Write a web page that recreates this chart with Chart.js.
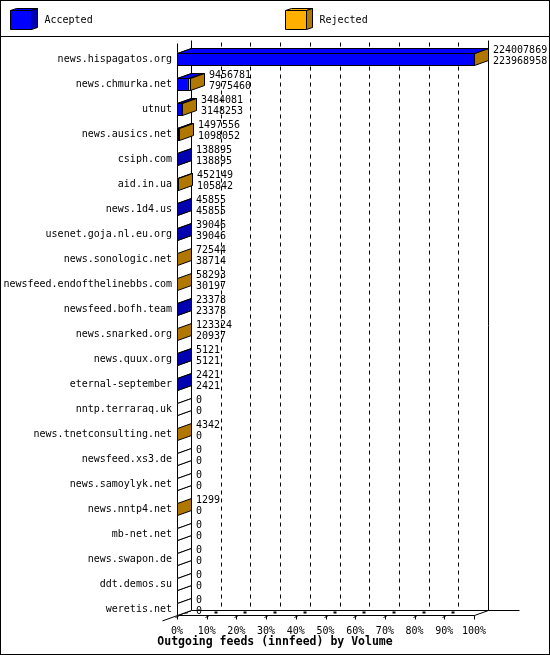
<!DOCTYPE html>
<html>
<head>
<meta charset="utf-8">
<title>Outgoing feeds (innfeed) by Volume</title>
<script src="https://cdn.jsdelivr.net/npm/chart.js@4.4.1/dist/chart.umd.min.js"></script>
<style>
  body { margin: 0; background: #fff; }
  canvas { display: block; }
</style>
</head>
<body>
<canvas id="canvas" width="550" height="655"></canvas>
<script>
// feeds, sorted by accepted volume (as in the report)
const feeds = [
    "news.hispagatos.org", "news.chmurka.net", "utnut", "news.ausics.net",
    "csiph.com", "aid.in.ua", "news.1d4.us", "usenet.goja.nl.eu.org",
    "news.sonologic.net", "newsfeed.endofthelinebbs.com", "newsfeed.bofh.team",
    "news.snarked.org", "news.quux.org", "eternal-september", "nntp.terraraq.uk",
    "news.tnetconsulting.net", "newsfeed.xs3.de", "news.samoylyk.net",
    "news.nntp4.net", "mb-net.net", "news.swapon.de", "ddt.demos.su", "weretis.net"
]
// upper number next to each bar
const rejected = [
    224007869, 9456781, 3484081, 1497556, 138895, 452149, 45855, 39046,
    72544, 58293, 23378, 123324, 5121, 2421, 0, 4342, 0, 0, 1299, 0, 0, 0, 0
]
// lower number next to each bar
const accepted = [
    223968958, 7975460, 3148253, 1098052, 138895, 105842, 45855, 39046,
    38714, 30197, 23378, 20937, 5121, 2421, 0, 0, 0, 0, 0, 0, 0, 0, 0
]
const tickLabels = ["0%", "10%", "20%", "30%", "40%", "50%", "60%", "70%", "80%", "90%", "100%"]
const chartTitle = "Outgoing feeds (innfeed) by Volume"

const FONT = '"DejaVu Sans Mono", "Liberation Mono", monospace'
const DX = 14, DY = -5          // depth of the 3d bars
const shades = {
    Accepted: { front: "#0000ff", side: "#0000b0" },
    Rejected: { front: "#ffaf00", side: "#b07800" }
}
const maxVolume = Math.max(...rejected, ...accepted)

const px = v => Math.round(v) + 0.5

function poly(ctx, pts, fill) {
    ctx.beginPath()
    ctx.moveTo(pts[0][0], pts[0][1])
    pts.slice(1).forEach(p => ctx.lineTo(p[0], p[1]))
    ctx.closePath()
    if (fill) {
        ctx.fillStyle = fill
        ctx.fill()
    }
    ctx.stroke()
}

function line(ctx, x1, y1, x2, y2) {
    ctx.beginPath()
    ctx.moveTo(x1, y1)
    ctx.lineTo(x2, y2)
    ctx.stroke()
}

// frame, legend, title, back wall and floor
const innFrame = {
    id: "innFrame",
    beforeDraw(chart) {
        const ctx = chart.ctx
        const { width, height } = chart
        ctx.save()
        ctx.fillStyle = "#fff"
        ctx.fillRect(0, 0, width, height)
        ctx.strokeStyle = "#000"
        ctx.lineWidth = 1
        ctx.strokeRect(0.5, 0.5, width - 1, height - 1)
        line(ctx, 0, 36.5, width, 36.5)

        // legend with little cubes
        chart.data.datasets.forEach((ds, i) => {
            const x = 10.5 + i * width / 2, y = 10.5, w = 21, h = 19
            const c = shades[ds.label]
            poly(ctx, [[x, y], [x + w, y], [x + w + 6, y - 2], [x + 6, y - 2]], c.front)
            poly(ctx, [[x + w, y], [x + w + 6, y - 2], [x + w + 6, y + h - 2], [x + w, y + h]], c.side)
            poly(ctx, [[x, y], [x + w, y], [x + w, y + h], [x, y + h]], c.front)
            ctx.fillStyle = "#000"
            ctx.font = "10px " + FONT
            ctx.textBaseline = "middle"
            ctx.fillText(ds.label, x + 34, 20)
        })

        // title under the axis
        ctx.font = "bold 11.5px " + FONT
        ctx.textAlign = "center"
        ctx.textBaseline = "middle"
        ctx.fillText(chartTitle, width / 2, 642)
        ctx.restore()
    },
    beforeDatasetsDraw(chart) {
        const ctx = chart.ctx
        const xs = chart.scales.x
        const area = chart.chartArea
        const x0 = px(xs.getPixelForValue(0))
        const x1 = px(xs.getPixelForValue(maxVolume))
        const topY = px(area.top - 7)
        const floorF = px(area.bottom - 7)
        const floorB = floorF + DY
        ctx.save()
        ctx.strokeStyle = "#000"
        ctx.lineWidth = 1

        // dashed grid on the back wall
        ctx.setLineDash([4, 4])
        xs.ticks.forEach((t, k) => {
            if (k === 0 || k === xs.ticks.length - 1) return
            const gx = px(xs.getPixelForValue(t.value) + DX)
            line(ctx, gx, topY + 2, gx, floorB)
        })
        ctx.setLineDash([])

        // walls
        line(ctx, x0, topY + 3, x0, floorF)
        line(ctx, x0 + DX, topY, x0 + DX, floorB)
        line(ctx, x1 + DX, topY, x1 + DX, floorB)

        // floor
        line(ctx, x0 + DX, floorB, x1 + DX + 31, floorB)
        line(ctx, x0, floorF, x1, floorF)
        line(ctx, x0 - 15, floorF + 5.4, x0 + DX, floorB)
        line(ctx, x1, floorF, x1 + DX, floorB)
        xs.ticks.forEach(t => {
            const tx = px(xs.getPixelForValue(t.value))
            line(ctx, tx, floorF, tx, floorF + 4)
            if (tx < x1) {
                line(ctx, tx - 2, floorF + 2, tx + 2, floorF)
                ctx.fillStyle = "#000"
                ctx.fillRect(tx + 7, floorB + 1, 3, 2)
            }
        })
        ctx.restore()
    },
    afterDatasetDraw(chart, args) {
        const ctx = chart.ctx
        const ds = chart.data.datasets[args.index]
        const c = shades[ds.label]
        ctx.save()
        ctx.strokeStyle = "#000"
        ctx.lineWidth = 1
        args.meta.data.forEach((bar, i) => {
            const p = bar.getProps(["x", "y", "base", "height"], true)
            const b = px(p.base), x = px(p.x)
            const top = px(p.y - p.height / 2), bottom = px(p.y + p.height / 2)
            const value = ds.data[i]
            if (x - b >= 1) {
                ctx.strokeRect(b, top, x - b, bottom - top)
                poly(ctx, [[b, top], [x, top], [x + DX, top + DY], [b + DX, top + DY]], c.front)
            }
            // the end face shows unless the other bar sticks out further
            const showEnd = ds.label === "Rejected" || value >= rejected[i]
            if (showEnd) {
                poly(ctx, [[x, top], [x + DX, top + DY], [x + DX, bottom + DY], [x, bottom]],
                    value > 0 ? c.side : "#fff")
            }
        })
        ctx.restore()
    },
    afterDatasetsDraw(chart) {
        const ctx = chart.ctx
        const metaA = chart.getDatasetMeta(0)
        const metaR = chart.getDatasetMeta(1)
        ctx.save()
        ctx.fillStyle = "#000"
        ctx.font = "10px " + FONT
        ctx.textBaseline = "middle"
        feeds.forEach((f, i) => {
            const a = metaA.data[i], r = metaR.data[i]
            const lx = Math.round(Math.max(a.x, r.x)) + DX + 5
            ctx.fillText(String(rejected[i]), lx, a.y - 9)
            ctx.fillText(String(accepted[i]), lx, a.y + 2)
        })
        ctx.restore()
    }
}

Chart.defaults.font.family = FONT
Chart.defaults.color = "#000"

const target = document.querySelector("#canvas")
const feedChart = new Chart(target, {
    type: "bar",
    data: {
        labels: feeds,
        datasets: [{
            label: "Accepted",
            data: accepted,
            backgroundColor: shades.Accepted.front,
            borderWidth: 0,
            barThickness: 12,
            grouped: false
        }, {
            label: "Rejected",
            data: rejected,
            backgroundColor: shades.Rejected.front,
            borderWidth: 0,
            barThickness: 12,
            grouped: false
        }]
    },
    options: {
        indexAxis: "y",
        responsive: false,
        animation: false,
        devicePixelRatio: 1,
        layout: { padding: { top: 46.5, right: 76, bottom: 0, left: 0 } },
        plugins: {
            legend: { display: false },
            tooltip: { enabled: false },
            title: { display: false }
        },
        scales: {
            x: {
                type: "linear",
                min: 0,
                max: maxVolume,
                grid: { display: false, drawTicks: false },
                border: { display: false },
                afterBuildTicks: scale => {
                    scale.ticks = tickLabels.map((_, k) => ({ value: maxVolume * k / 10 }))
                },
                afterFit: scale => { scale.height = 655 - 621.5 },
                ticks: {
                    autoSkip: false,
                    maxRotation: 0,
                    padding: 4,
                    font: { size: 10 },
                    callback: (value, index) => tickLabels[index]
                }
            },
            y: {
                type: "category",
                grid: { display: false, drawTicks: false },
                border: { display: false },
                afterFit: scale => { scale.width = 177 },
                ticks: { padding: 5, font: { size: 10 } }
            }
        }
    },
    plugins: [innFrame]
})
</script>
</body>
</html>
